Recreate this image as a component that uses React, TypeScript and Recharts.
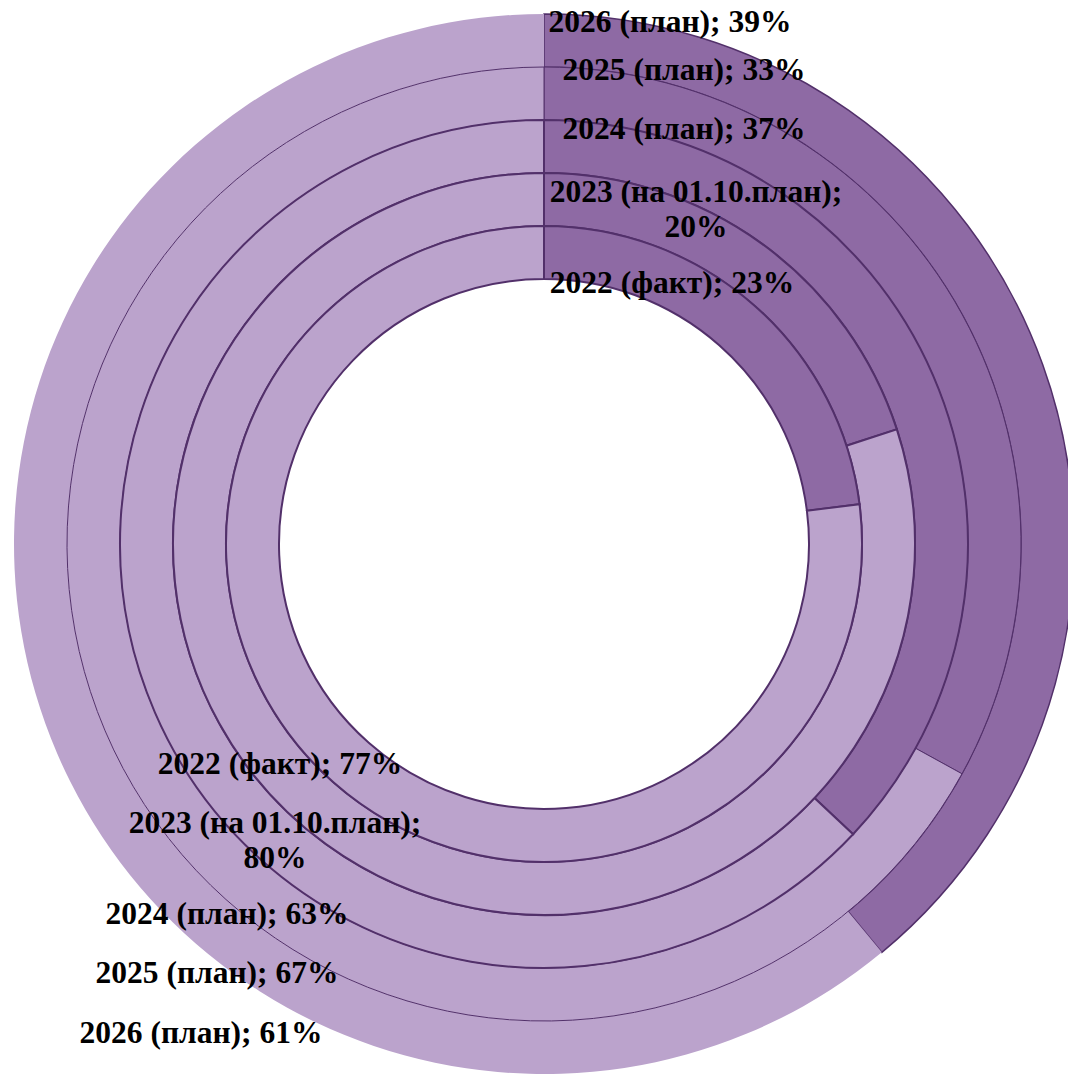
import React from 'react';
import { PieChart, Pie, Cell } from 'recharts';

// Data
const years = ['2022 (факт)', '2023 (на 01.10.план)', '2024 (план)', '2025 (план)', '2026 (план)'];
const darkShare = [23, 20, 37, 33, 39];
const lightShare = [77, 80, 63, 67, 61];

// Layout
const W = 1068;
const H = 1074;
const CX = 544;
const CY = 544;
const RING_INNER = [265, 318, 371, 424, 477];
const RING_OUTER = [318, 371, 424, 477, 530];
const DARK = '#8E6AA4';
const LIGHT = '#BBA3CC';
const STROKE = '#52306A';
const RING_STROKE_W = [2, 2, 2, 1, 1];
// label offsets (center of text relative to chart center)
const DARK_LABEL_POS = [
  [128, -262],
  [152, -336],
  [140, -416],
  [140, -475],
  [126, -523],
];
const LIGHT_LABEL_POS = [
  [-264, 219],
  [-269, 295],
  [-317, 369],
  [-327, 428],
  [-343, 488],
];
const FONT = '"Liberation Serif", "Times New Roman", serif';

function splitLabel(name: string, pct: number, ringIdx: number): string[] {
  if (ringIdx === 1) return [`${name};`, `${pct}%`];
  return [`${name}; ${pct}%`];
}

function makeLabel(ringIdx: number) {
  return (props: any) => {
    const idx = props.index;
    const pos = idx === 0 ? DARK_LABEL_POS[ringIdx] : LIGHT_LABEL_POS[ringIdx];
    const pct = idx === 0 ? darkShare[ringIdx] : lightShare[ringIdx];
    const lines = splitLabel(years[ringIdx], pct, ringIdx);
    const x = CX + pos[0];
    const y = CY + pos[1];
    const lh = 35;
    const y0 = y - ((lines.length - 1) * lh) / 2;
    return (
      <text
        key={`lbl-${ringIdx}-${idx}`}
        x={x}
        y={y0}
        textAnchor="middle"
        dominantBaseline="central"
        fontFamily={FONT}
        fontWeight="bold"
        fontSize={31.5}
        fill="#000"
      >
        {lines.map((l, i) => (
          <tspan key={i} x={x} y={y0 + i * lh} dominantBaseline="central">
            {l}
          </tspan>
        ))}
      </text>
    );
  };
}

export default function App() {
  const order = [4, 3, 2, 1, 0];
  return (
    <div style={{ position: 'absolute', left: 0, top: 0, width: W, height: H, background: '#fff' }}>
      <PieChart width={W} height={H} margin={{ top: 0, right: 0, bottom: 0, left: 0 }}>
        {order.map((r) => (
          <Pie
            key={`ring-${r}`}
            data={[
              { name: `${years[r]} dark`, value: darkShare[r] },
              { name: `${years[r]} light`, value: lightShare[r] },
            ]}
            dataKey="value"
            cx={CX}
            cy={CY}
            innerRadius={RING_INNER[r]}
            outerRadius={RING_OUTER[r]}
            startAngle={90}
            endAngle={-270}
            isAnimationActive={false}
            labelLine={false}
            label={makeLabel(r)}
          >
            <Cell fill={DARK} stroke={STROKE} strokeWidth={r === 4 ? 1.5 : RING_STROKE_W[r]} />
            <Cell fill={LIGHT} stroke={r === 4 ? LIGHT : STROKE} strokeWidth={r === 4 ? 0 : RING_STROKE_W[r]} />
          </Pie>
        ))}
      </PieChart>
    </div>
  );
}
